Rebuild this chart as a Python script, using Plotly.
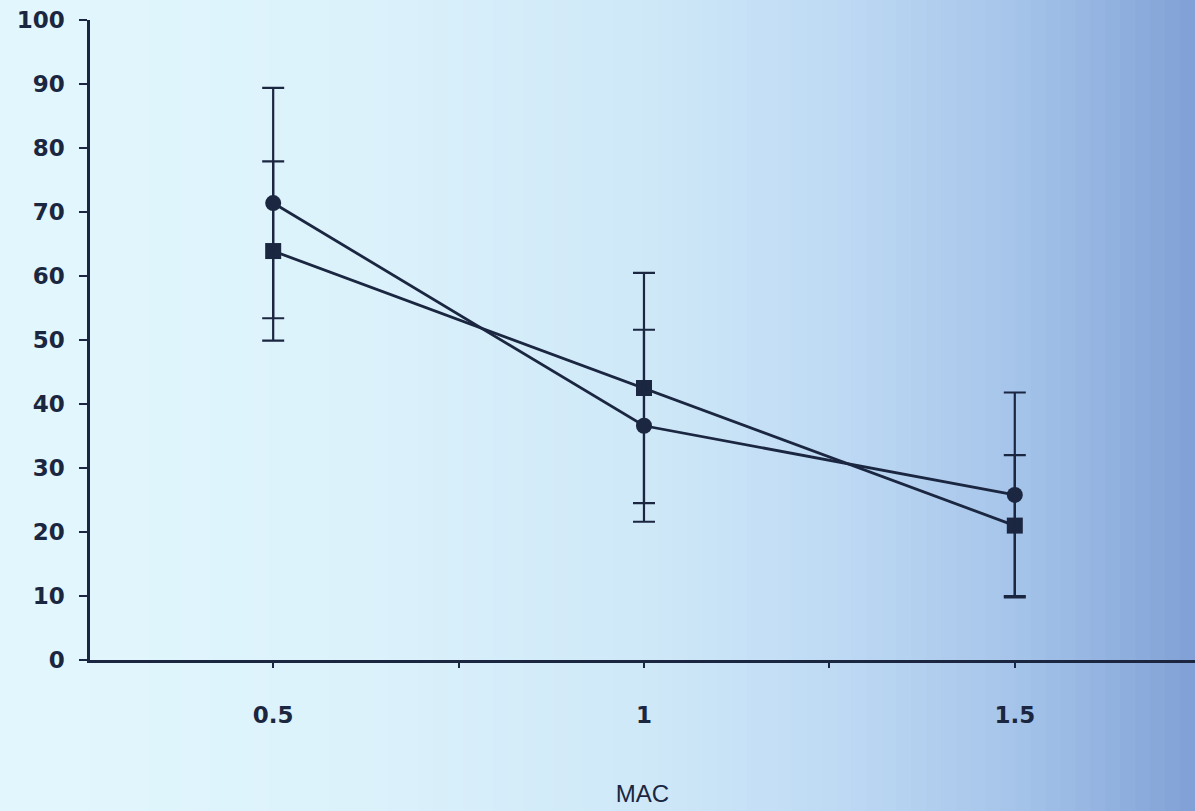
import plotly.graph_objects as go

# Data
mac = [0.5, 1.0, 1.5]
circle_mean = [71.4, 36.6, 25.8]
circle_err = [18.0, 15.0, 16.0]
square_mean = [63.9, 42.5, 21.0]
square_err = [14.0, 18.0, 11.0]

x_tickvals = [0.5, 0.75, 1.0, 1.25, 1.5]
x_ticktext = ["0.5", "", "1", "", "1.5"]
y_tickvals = [0, 10, 20, 30, 40, 50, 60, 70, 80, 90, 100]

ink = "#1b2640"

fig = go.Figure()

fig.add_trace(go.Scatter(
    x=mac, y=square_mean, mode="lines+markers",
    line=dict(color=ink, width=2.8),
    marker=dict(symbol="square", size=16, color=ink),
    error_y=dict(type="data", array=square_err, visible=True,
                 color=ink, thickness=2.2, width=11),
    showlegend=False,
))
fig.add_trace(go.Scatter(
    x=mac, y=circle_mean, mode="lines+markers",
    line=dict(color=ink, width=2.8),
    marker=dict(symbol="circle", size=16, color=ink),
    error_y=dict(type="data", array=circle_err, visible=True,
                 color=ink, thickness=2.2, width=11),
    showlegend=False,
))

# Background gradient (photo of a screen: light cyan on left, deeper blue at right)
stops = [
    (0.00, (226, 247, 253)),
    (0.30, (220, 242, 251)),
    (0.55, (206, 232, 248)),
    (0.70, (190, 218, 244)),
    (0.85, (166, 196, 234)),
    (1.00, (128, 161, 214)),
]
def col(t):
    for (t0, c0), (t1, c1) in zip(stops[:-1], stops[1:]):
        if t0 <= t <= t1:
            f = (t - t0) / (t1 - t0) if t1 > t0 else 0
            return "rgb(%d,%d,%d)" % tuple(round(a + (b - a) * f) for a, b in zip(c0, c1))
    return "rgb(%d,%d,%d)" % stops[-1][1]

n = 80
W = 1195.0
pl = 90.0
shapes = []
for i in range(n):
    px0 = i * W / n
    px1 = (i + 1) * W / n + 1
    shapes.append(dict(type="rect", xref="paper", yref="paper",
                       x0=(px0 - pl) / (W - pl), x1=(px1 - pl) / (W - pl),
                       y0=-1, y1=2,
                       fillcolor=col((i + 0.5) / n), line=dict(width=0),
                       layer="below"))

tick_font = dict(size=23, family="DejaVu Sans, Liberation Sans, Arial, sans-serif",
                 weight="bold", color=ink)

fig.update_layout(
    width=1195, height=811,
    margin=dict(l=90, r=0, t=20, b=151),
    paper_bgcolor="rgb(226,246,252)",
    plot_bgcolor="rgba(0,0,0,0)",
    shapes=shapes,
    font=dict(family="Liberation Sans, Arial, sans-serif", color=ink),
    xaxis=dict(
        range=[0.253, 1.743],
        tickvals=x_tickvals, ticktext=x_ticktext,
        ticks="outside", ticklen=5, tickwidth=2, tickcolor=ink,
        showline=True, linecolor=ink, linewidth=2.5,
        showgrid=False, zeroline=False,
        tickfont=tick_font,
        ticklabelstandoff=28,
        title=dict(text="MAC", font=dict(size=24, family="Liberation Sans, Arial, sans-serif"), standoff=58),
    ),
    yaxis=dict(
        range=[0, 100],
        tickvals=y_tickvals,
        ticks="outside", ticklen=8, tickwidth=2, tickcolor=ink,
        showline=True, linecolor=ink, linewidth=2.5,
        showgrid=False, zeroline=False,
        tickfont=tick_font,
        ticklabelstandoff=10,
    ),
)

fig.write_html("out.html", config={"displayModeBar": False},
               post_script="document.body.style.margin='0';document.body.style.overflow='hidden';")
